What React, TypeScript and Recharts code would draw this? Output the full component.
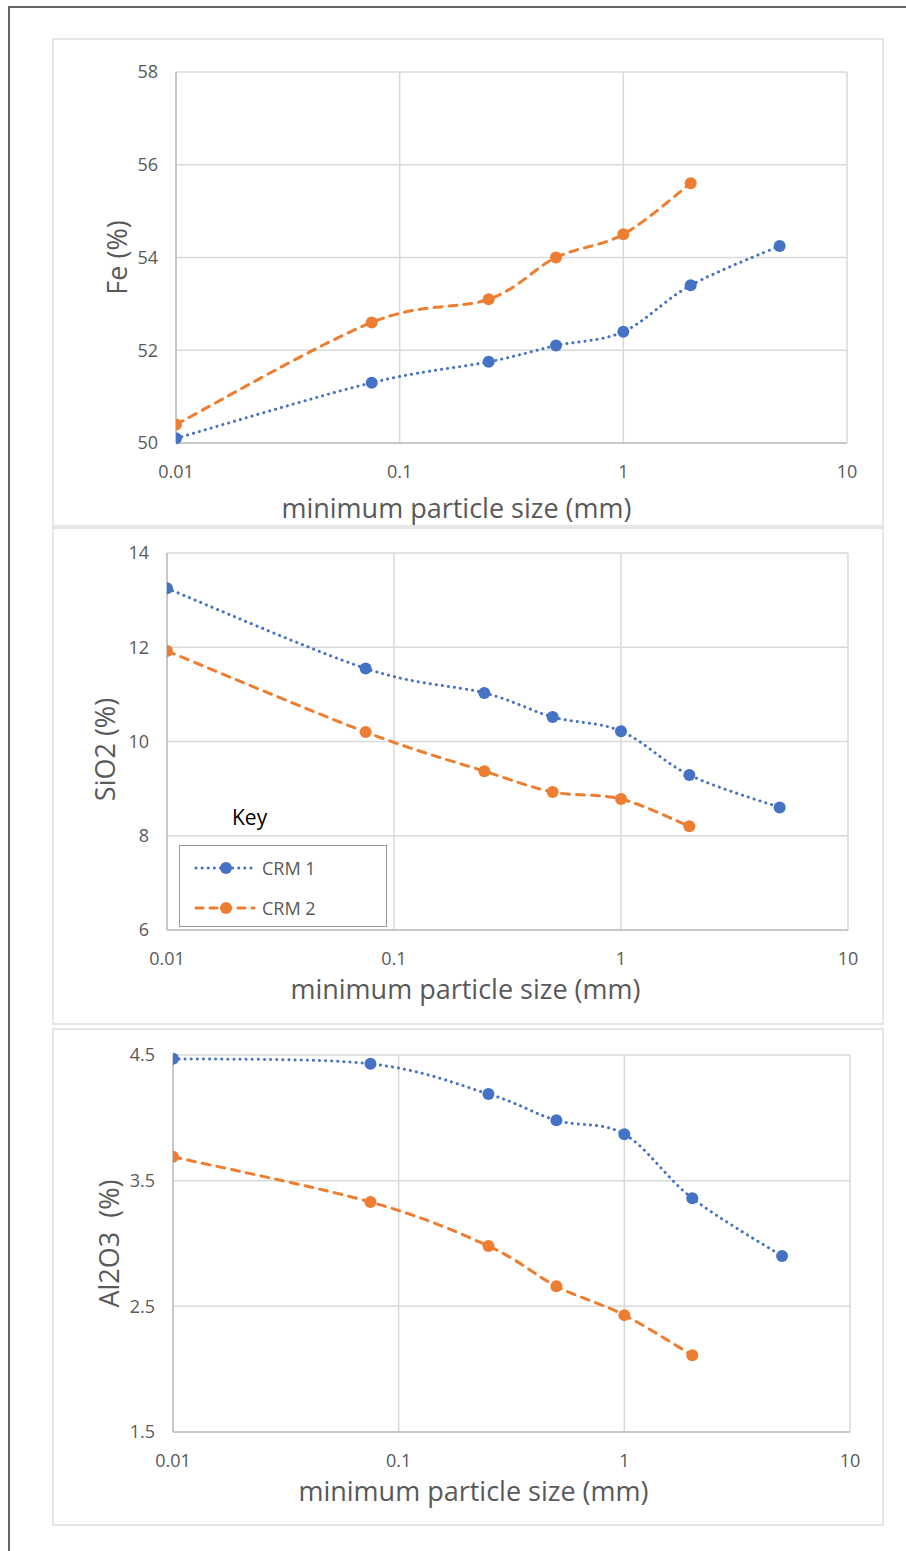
import { LineChart, Line, XAxis, YAxis, CartesianGrid, Legend } from "recharts";

const FONT = "'Open Sans', sans-serif";
const BLUE = "#4472C4";
const ORANGE = "#ED7D31";
const TICK_GREY = "#595959";

// minimum particle size (mm)
const sizes = [0.01, 0.075, 0.25, 0.5, 1, 2, 5];
const xTicks = [0.01, 0.1, 1, 10];

const feCrm1 = [50.1, 51.3, 51.75, 52.1, 52.4, 53.4, 54.25];
const feCrm2 = [50.4, 52.6, 53.1, 54.0, 54.5, 55.6, null];
const feTicks = [50, 52, 54, 56, 58];

const sio2Crm1 = [13.25, 11.55, 11.03, 10.52, 10.22, 9.29, 8.6];
const sio2Crm2 = [11.92, 10.2, 9.37, 8.93, 8.78, 8.2, null];
const sio2Ticks = [6, 8, 10, 12, 14];

const al2o3Crm1 = [4.47, 4.43, 4.19, 3.98, 3.87, 3.36, 2.9];
const al2o3Crm2 = [3.69, 3.33, 2.98, 2.66, 2.43, 2.11, null];
const al2o3Ticks = [1.5, 2.5, 3.5, 4.5];

const seriesNames = ["CRM 1", "CRM 2"];

const makeRows = (a: (number | null)[], b: (number | null)[]) =>
  sizes.map((s, i) => ({ size: s, crm1: a[i], crm2: b[i] }));

// excel-like smoothed line (catmull-rom style bezier through the points)
function smoothCurve(context: any) {
  let pts: [number, number][] = [];
  return {
    areaStart() {},
    areaEnd() {},
    lineStart() {
      pts = [];
    },
    point(x: number, y: number) {
      pts.push([+x, +y]);
    },
    lineEnd() {
      if (!pts.length) return;
      context.moveTo(pts[0][0], pts[0][1]);
      for (let i = 0; i < pts.length - 1; i++) {
        const p0 = pts[i - 1] || pts[i];
        const p1 = pts[i];
        const p2 = pts[i + 1];
        const p3 = pts[i + 2] || pts[i + 1];
        context.bezierCurveTo(
          p1[0] + (p2[0] - p0[0]) / 6,
          p1[1] + (p2[1] - p0[1]) / 6,
          p2[0] - (p3[0] - p1[0]) / 6,
          p2[1] - (p3[1] - p1[1]) / 6,
          p2[0],
          p2[1]
        );
      }
    },
  };
}

function KeyLegend(props: any) {
  const payload = props.payload || [];
  return (
    <div style={{ position: "relative", width: 210, height: 130, fontFamily: FONT }}>
      <div style={{ position: "absolute", left: 53, top: 2, fontSize: 21, color: "#000", lineHeight: "30px" }}>Key</div>
      <div
        style={{
          position: "absolute",
          left: 0,
          top: 45,
          width: 208,
          height: 82,
          boxSizing: "border-box",
          border: "1.5px solid #999",
          background: "#fff",
        }}
      >
        {payload.map((p: any, i: number) => (
          <div key={p.value} style={{ position: "absolute", left: 0, top: 22 + i * 40 - 12, height: 24, width: 206 }}>
            <svg width={70} height={24} style={{ position: "absolute", left: 14, top: 0 }}>
              <line
                x1={2}
                x2={60}
                y1={12}
                y2={12}
                stroke={p.color}
                strokeWidth={3}
                strokeDasharray={i === 0 ? "0.1 6" : "7 7"}
                strokeLinecap="round"
              />
              <circle cx={32} cy={12} r={6} fill={p.color} />
            </svg>
            <span style={{ position: "absolute", left: 82, top: 0, lineHeight: "24px", fontSize: 18, color: TICK_GREY }}>
              {p.value}
            </span>
          </div>
        ))}
      </div>
    </div>
  );
}

type PanelProps = {
  top: number;
  height: number;
  margin: { top: number; right: number; left: number; bottom: number };
  c1: (number | null)[];
  c2: (number | null)[];
  yDomain: [number, number];
  yTicks: number[];
  yFormat?: (v: number) => string;
  yTitle: string;
  yTitleDx: number;
  yTitleDy: number;
  xTitleDx: number;
  xTitleDy: number;
  showKey?: boolean;
};

function Panel(p: PanelProps) {
  const data = makeRows(p.c1, p.c2);
  return (
    <div
      style={{
        position: "absolute",
        left: 52,
        top: p.top,
        width: 832,
        height: p.height,
        boxSizing: "border-box",
        border: "2px solid #e6e6e6",
        background: "#fff",
      }}
    >
      <div style={{ position: "absolute", left: -2, top: -2 }}>
        <LineChart width={832} height={p.height} data={data} margin={p.margin}>
          <CartesianGrid stroke="#d9d9d9" strokeWidth={1.5} />
          <XAxis
            dataKey="size"
            type="number"
            scale="log"
            domain={[0.01, 10]}
            ticks={xTicks}
            allowDataOverflow
            height={30}
            tickSize={0}
            tickMargin={22}
            tickLine={false}
            axisLine={{ stroke: "#bfbfbf", strokeWidth: 1.5 }}
            tick={{ fill: TICK_GREY, fontSize: 18, fontFamily: FONT }}
            tickFormatter={(v: number) => String(v)}
            label={{
              content: (lp: any) => {
                const vb = lp.viewBox;
                return (
                  <text
                    x={vb.x + vb.width / 2 + p.xTitleDx}
                    y={vb.y + p.xTitleDy}
                    textAnchor="middle"
                    fill={TICK_GREY}
                    fontSize={27}
                    fontFamily={FONT}
                  >
                    minimum particle size (mm)
                  </text>
                );
              },
            }}
          />
          <YAxis
            type="number"
            domain={p.yDomain}
            ticks={p.yTicks}
            width={60}
            tickSize={0}
            tickMargin={18}
            tickLine={false}
            axisLine={{ stroke: "#bfbfbf", strokeWidth: 1.5 }}
            tick={{ fill: TICK_GREY, fontSize: 18, fontFamily: FONT }}
            tickFormatter={p.yFormat || ((v: number) => String(v))}
            label={{
              content: (lp: any) => {
                const vb = lp.viewBox;
                const cx = vb.x + p.yTitleDx;
                const cy = vb.y + vb.height / 2 + p.yTitleDy;
                return (
                  <text
                    x={cx}
                    y={cy}
                    transform={`rotate(-90 ${cx} ${cy})`}
                    textAnchor="middle"
                    dominantBaseline="central"
                    fill={TICK_GREY}
                    fontSize={27}
                    fontFamily={FONT}
                    style={{ whiteSpace: "pre" }}
                  >
                    {p.yTitle}
                  </text>
                );
              },
            }}
          />
          {p.showKey && (
            <Legend
              layout="vertical"
              verticalAlign="middle"
              align="center"
              content={<KeyLegend />}
              wrapperStyle={{ left: 127, top: 273, width: 210, height: 130 }}
            />
          )}
          <Line
            name={seriesNames[0]}
            dataKey="crm1"
            type={smoothCurve as any}
            stroke={BLUE}
            strokeWidth={3}
            strokeDasharray="0.1 6"
            strokeLinecap="round"
            dot={{ r: 6, fill: BLUE, stroke: BLUE, strokeWidth: 0, strokeDasharray: "" }}
            activeDot={false}
            isAnimationActive={false}
          />
          <Line
            name={seriesNames[1]}
            dataKey="crm2"
            type={smoothCurve as any}
            stroke={ORANGE}
            strokeWidth={3}
            strokeDasharray="8 7"
            strokeLinecap="round"
            dot={{ r: 6, fill: ORANGE, stroke: ORANGE, strokeWidth: 0, strokeDasharray: "" }}
            activeDot={false}
            isAnimationActive={false}
          />
        </LineChart>
      </div>
    </div>
  );
}

export default function App() {
  return (
    <div style={{ position: "absolute", left: 0, top: 0, width: 906, height: 1551, background: "#fff", overflow: "hidden" }}>
      <div
        style={{
          position: "absolute",
          left: 8,
          top: 6,
          width: 1000,
          height: 1600,
          borderTop: "2px solid #666",
          borderLeft: "2px solid #666",
        }}
      />
      <Panel
        top={38}
        height={489}
        margin={{ top: 34, right: 37, left: 64, bottom: 54 }}
        c1={feCrm1}
        c2={feCrm2}
        yDomain={[50, 58]}
        yTicks={feTicks}
        yTitle="Fe (%)"
        yTitleDx={0}
        yTitleDy={0}
        xTitleDx={-55}
        xTitleDy={75}
      />
      <Panel
        top={527}
        height={498}
        margin={{ top: 26, right: 36, left: 55, bottom: 65 }}
        c1={sio2Crm1}
        c2={sio2Crm2}
        yDomain={[6, 14]}
        yTicks={sio2Ticks}
        yTitle="SiO2 (%)"
        yTitleDx={-3}
        yTitleDy={8}
        xTitleDx={-42}
        xTitleDy={69}
        showKey
      />
      <Panel
        top={1028}
        height={498}
        margin={{ top: 27, right: 34, left: 61, bottom: 64 }}
        c1={al2o3Crm1}
        c2={al2o3Crm2}
        yDomain={[1.5, 4.5]}
        yTicks={al2o3Ticks}
        yFormat={(v: number) => v.toFixed(1)}
        yTitle="Al2O3  (%)"
        yTitleDx={-5}
        yTitleDy={0}
        xTitleDx={-38}
        xTitleDy={69}
      />
    </div>
  );
}
